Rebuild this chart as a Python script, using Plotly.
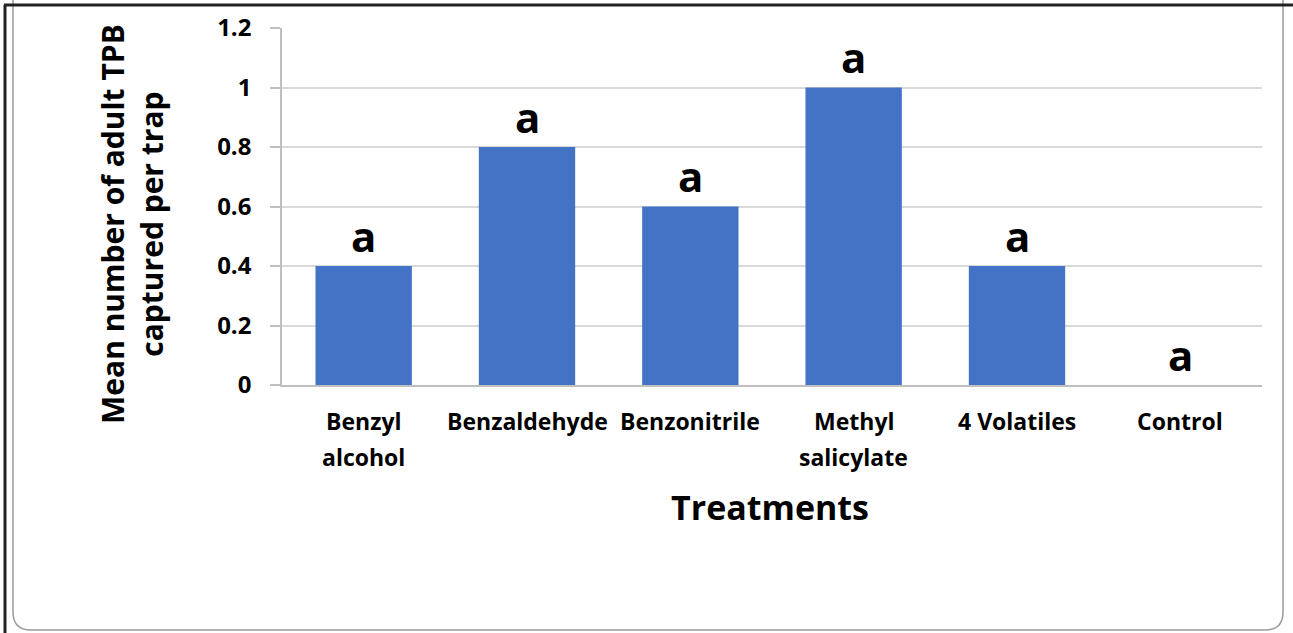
import plotly.graph_objects as go

categories = ["Benzyl alcohol", "Benzaldehyde", "Benzonitrile", "Methyl salicylate", "4 Volatiles", "Control"]
label_lines = [["Benzyl", "alcohol"], ["Benzaldehyde"], ["Benzonitrile"], ["Methyl", "salicylate"], ["4 Volatiles"], ["Control"]]
values = [0.4, 0.8, 0.6, 1.0, 0.4, 0.0]
letters = ["a", "a", "a", "a", "a", "a"]
y_ticks = [0, 0.2, 0.4, 0.6, 0.8, 1.0, 1.2]
y_tick_labels = ["0", "0.2", "0.4", "0.6", "0.8", "1", "1.2"]

W, H = 1293, 633
L, R, T, B = 282, 31, 28, 248
PW, PH = W - L - R, H - T - B

def px(x):
    return (x - L) / PW

def py(y):
    return (H - B - y) / PH

FONT = "Open Sans"
BOLD = dict(family=FONT, color="black", weight="bold")

fig = go.Figure()
fig.add_trace(go.Bar(x=categories, y=values, marker_color="#4472C4",
                     marker_line_width=0, width=0.59))

# significance letters
for c, v, t in zip(categories, values, letters):
    fig.add_annotation(x=c, y=v, text=t, showarrow=False, yanchor="middle", yshift=31,
                       font=dict(size=42, **BOLD))

# category labels (two-line spacing as in the original)
line_y = [421, 457]
for c, lines in zip(categories, label_lines):
    for i, ln in enumerate(lines):
        fig.add_annotation(x=c, xref="x", y=py(line_y[i]), yref="paper", text=ln,
                           showarrow=False, yanchor="middle", xanchor="center",
                           font=dict(size=23, **BOLD))

# axis titles
fig.add_annotation(x=px(770), y=py(507), xref="paper", yref="paper", text="Treatments",
                   showarrow=False, xanchor="center", yanchor="middle",
                   font=dict(size=34, **BOLD))
fig.add_annotation(x=px(132), y=py(224), xref="paper", yref="paper",
                   text="Mean number of adult TPB<br>captured per trap", textangle=-90,
                   showarrow=False, xanchor="center", yanchor="middle",
                   font=dict(size=30, **BOLD))

# chart border (cropped Excel frame)
r = 18
x0, x1, yb, ytop = px(13), px(1283), py(630), py(-10)
path = (f"M {x0} {ytop} L {x0} {py(630 - r)} "
        f"Q {x0} {yb} {px(13 + r)} {yb} "
        f"L {px(1283 - r)} {yb} Q {x1} {yb} {x1} {py(630 - r)} L {x1} {ytop}")
fig.add_shape(type="path", path=path, xref="paper", yref="paper",
              line=dict(color="#9a9a9a", width=1.5), layer="below")
fig.add_shape(type="line", xref="paper", yref="paper", x0=px(4), x1=px(1293), y0=py(5), y1=py(5),
              line=dict(color="#222222", width=3))
fig.add_shape(type="line", xref="paper", yref="paper", x0=px(5), x1=px(5), y0=py(5), y1=py(633),
              line=dict(color="#222222", width=3))

fig.update_layout(
    width=W, height=H,
    margin=dict(l=L, r=R, t=T, b=B, autoexpand=False),
    paper_bgcolor="white", plot_bgcolor="white",
    showlegend=False,
    font=dict(family=FONT, color="black"),
    xaxis=dict(
        showticklabels=False, automargin=False,
        showline=True, linecolor="#BFBFBF", linewidth=1.5,
        ticks="", showgrid=False,
    ),
    yaxis=dict(
        automargin=False,
        range=[0, 1.2], tickvals=y_ticks, ticktext=y_tick_labels,
        tickfont=dict(size=24, **BOLD), ticklabelstandoff=14,
        showline=True, linecolor="#BFBFBF", linewidth=1.5,
        ticks="outside", ticklen=10, tickcolor="#BFBFBF", tickwidth=1.5,
        showgrid=True, gridcolor="#D9D9D9", gridwidth=1.5, zeroline=False,
    ),
)

fig.write_html("out.html", config={"displayModeBar": False},
               post_script="document.body.style.margin='0';document.body.style.overflow='hidden';")
